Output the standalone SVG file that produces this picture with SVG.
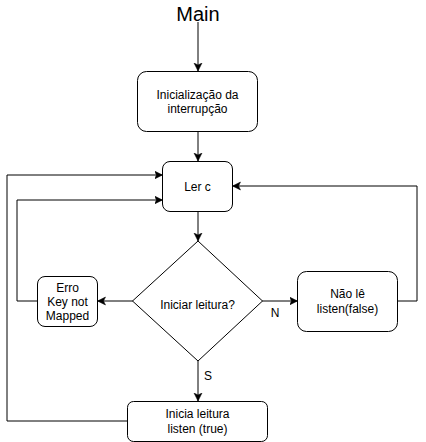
<svg xmlns="http://www.w3.org/2000/svg" width="426" height="442" viewBox="0 0 426 442">
<style>
.box{fill:#fff;stroke:#000;stroke-width:1}
.t{font-family:"Liberation Sans",Arial,sans-serif;font-size:12px;fill:#000;text-anchor:middle}
.e{fill:none;stroke:#000;stroke-width:1;marker-end:url(#arr)}
</style>
<defs>
<marker id="arr" markerUnits="userSpaceOnUse" markerWidth="10" markerHeight="10" viewBox="0 0 10 10" refX="8" refY="5" orient="auto">
<path d="M0,1 L8,5 L0,9 L2,5 Z" fill="#000" stroke="#000" stroke-width="0.5"/>
</marker>
</defs>
<rect width="426" height="442" fill="#fff"/>
<g id="connectors">
<path class="e" d="M198,22 V71"/>
<path class="e" d="M198,131 V161"/>
<path class="e" d="M198,211 V241"/>
<path class="e" d="M198,361 V401"/>
<path class="e" d="M133,301 H97.5"/>
<path class="e" d="M262,301 H297.5"/>
<path class="e" d="M127.5,421 H7 V175 H162.5"/>
<path class="e" d="M37.5,301 H17 V200 H162.5"/>
<path class="e" d="M397.5,301 H417 V186 H232.5"/>
<text class="t" x="208" y="380">S</text>
<text class="t" x="275" y="317">N</text>
</g>
<g id="main">
<text class="t" x="198" y="21" style="font-size:20px">Main</text>
</g>
<g id="init">
<rect class="box" x="137.5" y="71.5" width="120" height="60" rx="9"/>
<text class="t" x="197.5" y="99">Inicialização da</text>
<text class="t" x="197.5" y="113">interrupção</text>
</g>
<g id="lerc">
<rect class="box" x="162.5" y="161.5" width="70" height="50" rx="7.5"/>
<text class="t" x="197.5" y="191">Ler c</text>
</g>
<g id="decision">
<path class="box" d="M198,241 L262.5,301 L198,361 L132.5,301 Z"/>
<text class="t" x="197.5" y="309">Iniciar leitura?</text>
</g>
<g id="erro">
<rect class="box" x="37.5" y="276.5" width="60" height="50" rx="7.5"/>
<text class="t" x="67.5" y="292">Erro</text>
<text class="t" x="67.5" y="306">Key not</text>
<text class="t" x="67.5" y="320">Mapped</text>
</g>
<g id="naole">
<rect class="box" x="297.5" y="271.5" width="100" height="60" rx="9"/>
<text class="t" x="347.5" y="298">Não lê</text>
<text class="t" x="347.5" y="313">listen(false)</text>
</g>
<g id="inicia">
<rect class="box" x="127.5" y="401.5" width="140" height="40" rx="6"/>
<text class="t" x="197.5" y="418">Inicia leitura</text>
<text class="t" x="197.5" y="433">listen (true)</text>
</g>
</svg>
